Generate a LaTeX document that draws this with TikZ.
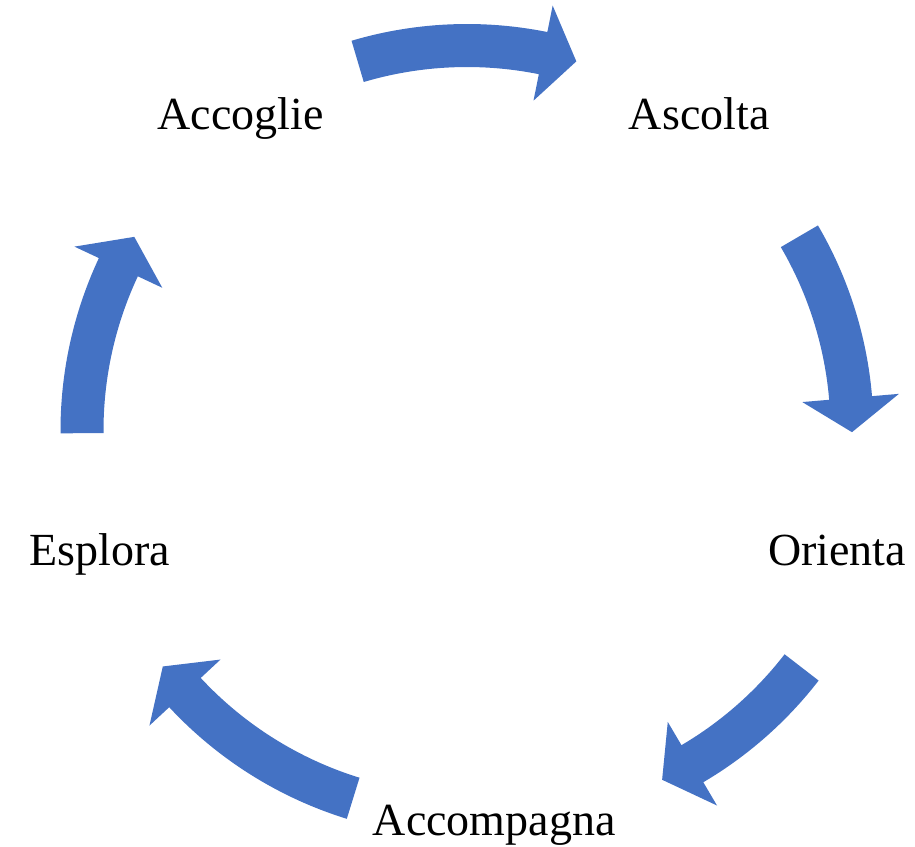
\documentclass[tikz,border=0pt]{standalone}
\usepackage{fontspec}
\setmainfont{Liberation Serif}
\usetikzlibrary{positioning}
\definecolor{cycleblue}{RGB}{68,114,196}

\tikzset{
  steplabel/.style={inner sep=0pt, anchor=base, font=\fontsize{34.5pt}{41pt}\selectfont},
  blockarrow/.style={fill=cycleblue, draw=none}
}

\begin{document}
\begin{tikzpicture}[x=0.75pt, y=0.75pt]
  \useasboundingbox (-467,-416.5) rectangle (448,430.5);

  % the five steps
  \node[steplabel] (accoglie)   at (-226.5,300.5)  {Accoglie};
  \node[steplabel] (ascolta)    at (232.2,300.5)   {Ascolta};
  \node[steplabel] (orienta)    at (370,-134.5)    {Orienta};
  \node[steplabel] (accompagna) at (27.2,-404.5)   {Accompagna};
  \node[steplabel] (esplora)    at (-367,-134.5)   {Esplora};

  % curved block arrows: shift x, shift y, tail angle, tip angle
  \foreach \dx/\dy/\ts/\tt in {0/0/106.5/73.5, 0/0/30.3/-0.25, 30/-1.5/-37.7/-64.6,
                              0/0/-107.2/-142.2, 0/0/180.4/149.8} {
    \pgfmathsetmacro{\tb}{\tt+5.1}
    \begin{scope}[shift={(\dx,\dy)}]
      \fill[blockarrow] (\ts:406.5) arc[start angle=\ts, end angle=\tb, radius=406.5]
        -- (\tb:433.5) -- (\tt:385) -- (\tb:336.5) -- (\tb:363.5)
        arc[start angle=\tb, end angle=\ts, radius=363.5] -- cycle;
    \end{scope}
  }
\end{tikzpicture}
\end{document}
